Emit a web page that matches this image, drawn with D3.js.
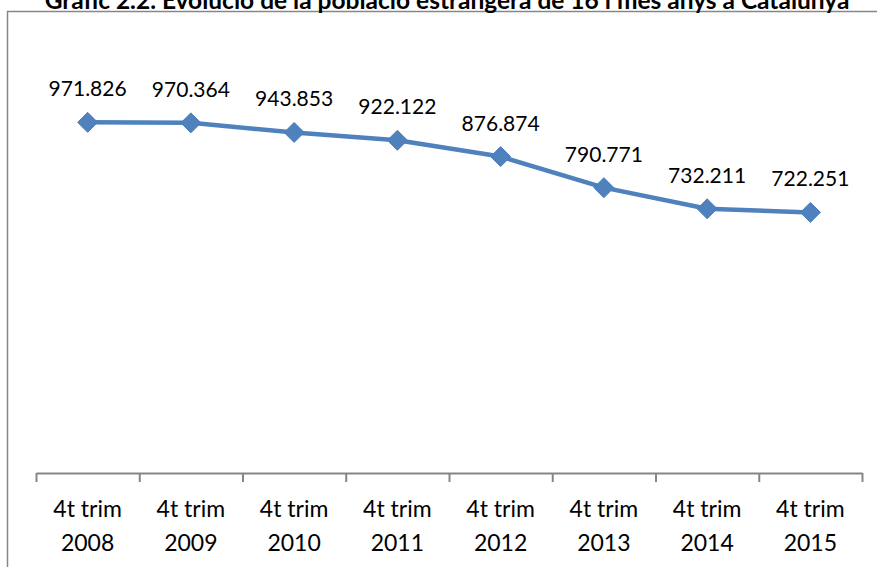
<!DOCTYPE html>
<html>
<head>
<meta charset="utf-8">
<script src="https://cdnjs.cloudflare.com/ajax/libs/d3/7.8.5/d3.min.js"></script>
<style>
  body { margin: 0; background: #fff; }
  svg { display: block; }
</style>
</head>
<body>
<script>
// data
var categories = ["4t trim 2008", "4t trim 2009", "4t trim 2010", "4t trim 2011",
                  "4t trim 2012", "4t trim 2013", "4t trim 2014", "4t trim 2015"];
var values = [971826, 970364, 943853, 922122, 876874, 790771, 732211, 722251];
var valueLabels = ["971.826", "970.364", "943.853", "922.122", "876.874", "790.771", "732.211", "722.251"];
var title = "Gràfic 2.2. Evolució de la població estrangera de 16 i més anys a Catalunya";

var w = 877, h = 567;
var font = "Lato, 'Open Sans', sans-serif";

var svg = d3.select("body").append("svg")
    .attr("width", w)
    .attr("height", h);

// chart border (only left and top fall inside the picture)
svg.append("rect")
    .attr("x", 7.5).attr("y", 11.5)
    .attr("width", 880).attr("height", 570)
    .attr("fill", "none")
    .attr("stroke", "#878787")
    .attr("stroke-width", 1.5);

// title, cut by the top edge as in the original
svg.append("text")
    .attr("x", 447).attr("y", 9)
    .attr("text-anchor", "middle")
    .attr("font-family", font)
    .attr("font-weight", "bold")
    .attr("font-size", "24.5px")
    .attr("fill", "#000")
    .text(title);

var xScale = d3.scaleBand()
    .domain(categories)
    .range([36, 862]);

var edgeScale = d3.scaleLinear()
    .domain([0, categories.length])
    .range([36, 862]);

var yScale = d3.scaleLinear()
    .domain([0, 1200000])
    .range([473, 40]);

// axis line with ticks between categories
var edgeAxis = d3.axisBottom(edgeScale)
    .tickValues(d3.range(categories.length + 1))
    .tickSize(9)
    .tickSizeOuter(0)
    .tickFormat("");

var gx = svg.append("g")
    .attr("transform", "translate(0,473)")
    .call(edgeAxis);
gx.select(".domain").attr("stroke", "#868686").attr("stroke-width", 2);
gx.selectAll(".tick line").attr("stroke", "#868686").attr("stroke-width", 2);

// category labels on two lines
var labels = svg.append("g").selectAll("text.cat")
    .data(categories)
    .enter()
    .append("text")
    .attr("class", "cat")
    .attr("text-anchor", "middle")
    .attr("font-family", font)
    .attr("font-size", "23px")
    .attr("fill", "#000");

labels.append("tspan")
    .attr("x", function(d) { return xScale(d) + xScale.bandwidth() / 2; })
    .attr("y", 517)
    .text(function(d) { return d.split(" ").slice(0, 2).join(" "); });
labels.append("tspan")
    .attr("x", function(d) { return xScale(d) + xScale.bandwidth() / 2; })
    .attr("y", 551)
    .text(function(d) { return d.split(" ")[2]; });

var cx = function(d, i) { return xScale(categories[i]) + xScale.bandwidth() / 2; };

// line
var line = d3.line()
    .x(function(d, i) { return cx(d, i); })
    .y(function(d) { return yScale(d); });

svg.append("path")
    .datum(values)
    .attr("d", line)
    .attr("fill", "none")
    .attr("stroke", "#4F81BD")
    .attr("stroke-width", 4.5)
    .attr("stroke-linejoin", "round");

// diamond markers
svg.selectAll("path.marker")
    .data(values)
    .enter()
    .append("path")
    .attr("class", "marker")
    .attr("d", d3.symbol().type(d3.symbolDiamond2).size(255))
    .attr("transform", function(d, i) {
        return "translate(" + cx(d, i) + "," + yScale(d) + ")";
    })
    .attr("fill", "#4F81BD")
    .attr("stroke", "#4A7EBB")
    .attr("stroke-width", 1);

// value labels
svg.selectAll("text.val")
    .data(values)
    .enter()
    .append("text")
    .attr("class", "val")
    .attr("text-anchor", "middle")
    .attr("font-family", font)
    .attr("font-size", "21px")
    .attr("fill", "#000")
    .attr("x", function(d, i) { return cx(d, i); })
    .attr("y", function(d) { return yScale(d) - 26; })
    .text(function(d, i) { return valueLabels[i]; });
</script>
</body>
</html>
